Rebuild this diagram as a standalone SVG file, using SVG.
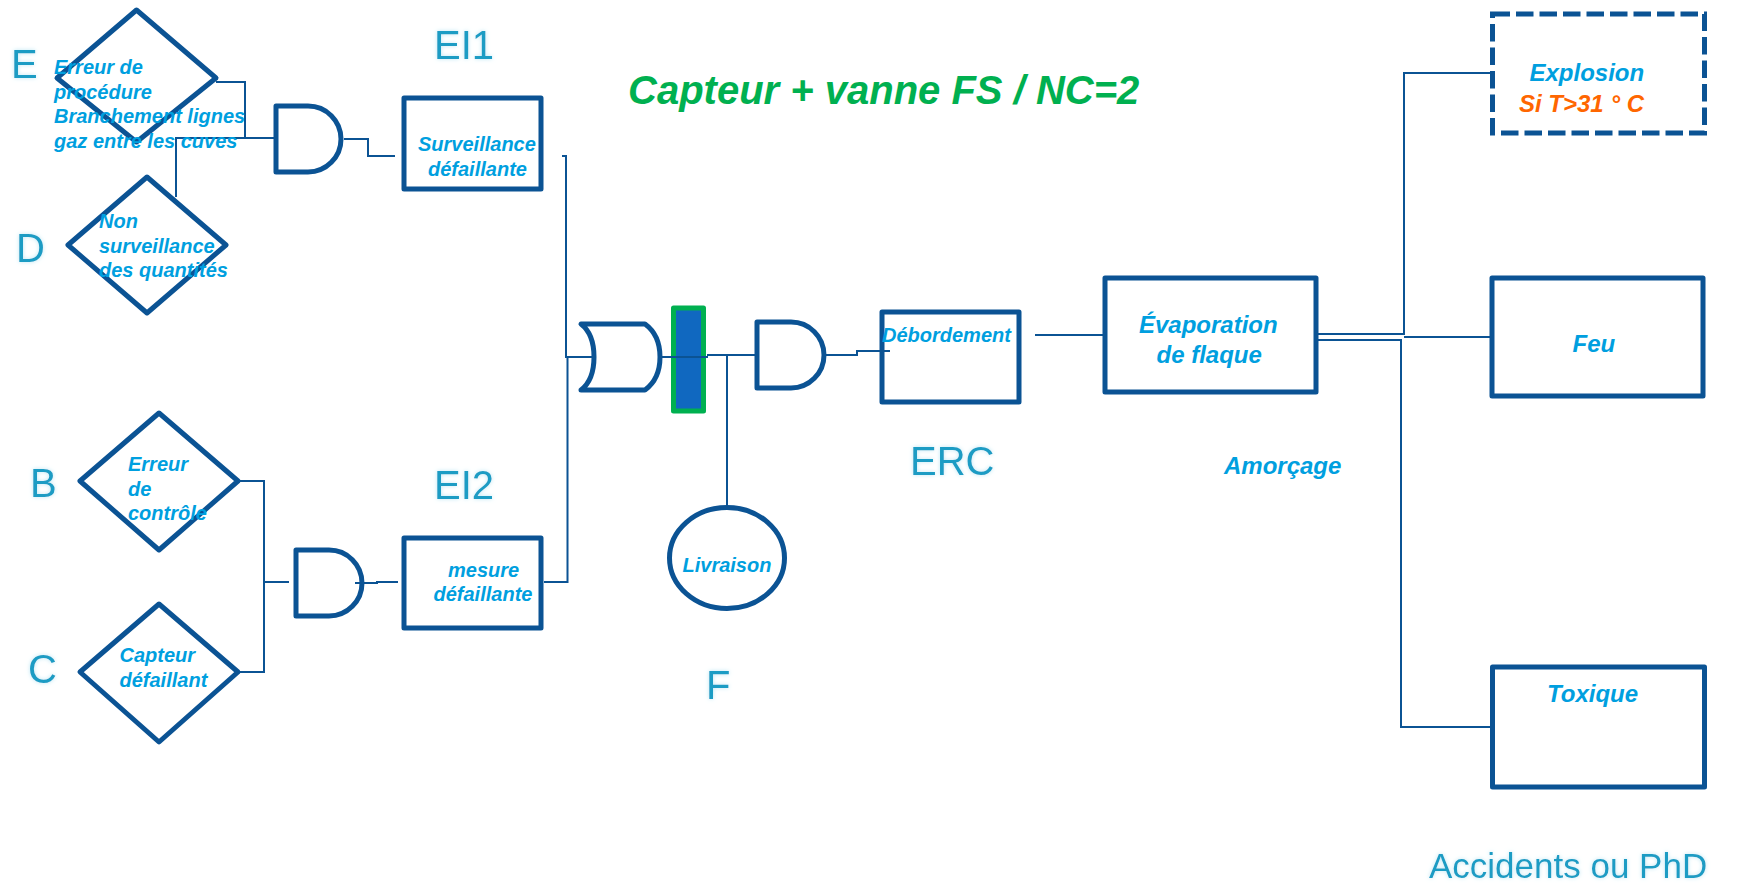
<svg xmlns="http://www.w3.org/2000/svg" width="1740" height="885" viewBox="0 0 1740 885">
<style>
.s{fill:#fff;stroke:#0B5394;stroke-width:5;stroke-linejoin:round}
.g{fill:none;stroke:#0B5394;stroke-width:5;stroke-linejoin:round;stroke-linecap:round}
.w{fill:none;stroke:#0B5394;stroke-width:2}
.t{font-family:"Liberation Sans",Arial,sans-serif;font-weight:bold;font-style:italic;font-size:20px;fill:#009FDF}
.l{font-family:"Liberation Sans",Arial,sans-serif;font-size:40px;fill:#1B9CC4;filter:url(#glow)}
</style>
<defs><filter id="glow" x="-30%" y="-30%" width="160%" height="160%"><feDropShadow dx="0" dy="0" stdDeviation="2" flood-color="#9FDCF0" flood-opacity="0.7"/></filter></defs>
<rect width="1740" height="885" fill="#fff"/>
<g id="connectors">
<path class="w" d="M216 82H245V138M176 197V138H275"/>
<path class="w" d="M344 139H368V156H395"/>
<path class="w" d="M239 481H264V672H239M264 582H289"/>
<path class="w" d="M355 583H377V582H398"/>
<path class="w" d="M562 156H566V357H592M544 582H567.500V357"/>
<path class="w" d="M826 355H857V351H890"/>
<path class="w" d="M1035 335H1105"/>
<path class="w" d="M1316 334H1404V73H1492M1404 337H1492"/>
<path class="w" d="M1309 340H1401V727H1492"/>
</g>
<g id="node-E"><polygon class="s" points="136.500,10 216,78 136.500,142 57,78"/><text class="t" x="54" y="74">Erreur de</text><text class="t" x="54" y="99">procédure</text><text class="t" x="54" y="123">Branchement lignes</text><text class="t" x="54" y="148">gaz entre les cuves</text></g>
<g id="node-D"><polygon class="s" points="147,177 226,245 147,313 68,245"/><text class="t" x="99" y="228">Non</text><text class="t" x="99" y="253">surveillance</text><text class="t" x="99" y="277">des quantités</text></g>
<g id="node-B"><polygon class="s" points="159,413 238,481 159,550 80,481"/><text class="t" x="128" y="471">Erreur</text><text class="t" x="128" y="496">de</text><text class="t" x="128" y="520">contrôle</text></g>
<g id="node-C"><polygon class="s" points="159,604 238,672 159,742 80,672"/><text class="t" x="119.500" y="662">Capteur</text><text class="t" x="119.500" y="687">défaillant</text></g>
<g id="gate-and-1"><path class="g" d="M276 106H308A33 33 0 0 1 308 172H276Z"/></g>
<g id="gate-and-2"><path class="g" d="M296 550H329A33 33 0 0 1 329 616H296Z"/></g>
<g id="gate-and-3"><path class="g" d="M757 322H791A33 33 0 0 1 791 388H757Z"/></g>
<g id="gate-or"><path class="g" d="M581 324H645Q660 335 660 357Q660 379 645 390H581Q594 380 594 357Q594 334 581 324Z"/></g>
<g id="node-surveillance"><rect class="s" x="404" y="98" width="137" height="91"/><text class="t" x="418" y="151">Surveillance</text><text class="t" x="428" y="176">défaillante</text></g>
<g id="node-mesure"><rect class="s" x="404" y="538" width="137" height="90"/><text class="t" x="448" y="577">mesure</text><text class="t" x="433.500" y="601">défaillante</text></g>
<g id="node-barrier"><rect x="673.500" y="308" width="30" height="103" fill="#1068C0" stroke="#00B050" stroke-width="5" stroke-linejoin="round"/></g>
<path class="w" d="M661 357H708M707 355H757M727 355V507"/>
<g id="node-livraison"><ellipse class="s" cx="727" cy="558" rx="57.500" ry="50.500"/><text class="t" x="682.500" y="572">Livraison</text></g>
<g id="node-debordement"><rect class="s" x="882" y="312" width="137" height="90"/><text class="t" x="882" y="342">Débordement</text></g>
<path class="w" d="M857 351H890"/>
<g id="node-evaporation"><rect class="s" x="1105" y="278" width="211" height="114"/><text class="t" x="1139" y="333" style="font-size:24px">Évaporation</text><text class="t" x="1156.500" y="363" style="font-size:24px">de flaque</text></g>
<g id="node-explosion"><rect x="1492.500" y="14" width="212" height="119" fill="#fff" stroke="#0B5394" stroke-width="5" stroke-dasharray="17.500 6"/><text class="t" x="1529.500" y="81" style="font-size:24px">Explosion</text><text class="t" x="1519" y="112" style="font-size:24px;fill:#FF6600">Si T&gt;31 ° C</text></g>
<g id="node-feu"><rect class="s" x="1492" y="278" width="211" height="118"/><text class="t" x="1572.500" y="352" style="font-size:24px">Feu</text></g>
<g id="node-toxique"><rect class="s" x="1492.500" y="667" width="212" height="120"/><text class="t" x="1547" y="702" style="font-size:24px">Toxique</text></g>
<g id="labels">
<text class="l" x="11" y="78">E</text><text class="l" x="16" y="262">D</text><text class="l" x="30" y="497">B</text><text class="l" x="28" y="683">C</text><text class="l" x="706" y="699">F</text>
<text class="l" x="434" y="59">EI1</text><text class="l" x="434" y="499">EI2</text><text class="l" x="910" y="475">ERC</text>
<text class="l" x="1429" y="878" style="font-size:35px">Accidents ou PhD</text>
<text class="t" x="1224" y="474" style="font-size:24px">Amorçage</text>
<text class="t" x="628" y="104" style="font-size:40px;fill:#00B050">Capteur + vanne FS / NC=2</text>
</g>
</svg>
